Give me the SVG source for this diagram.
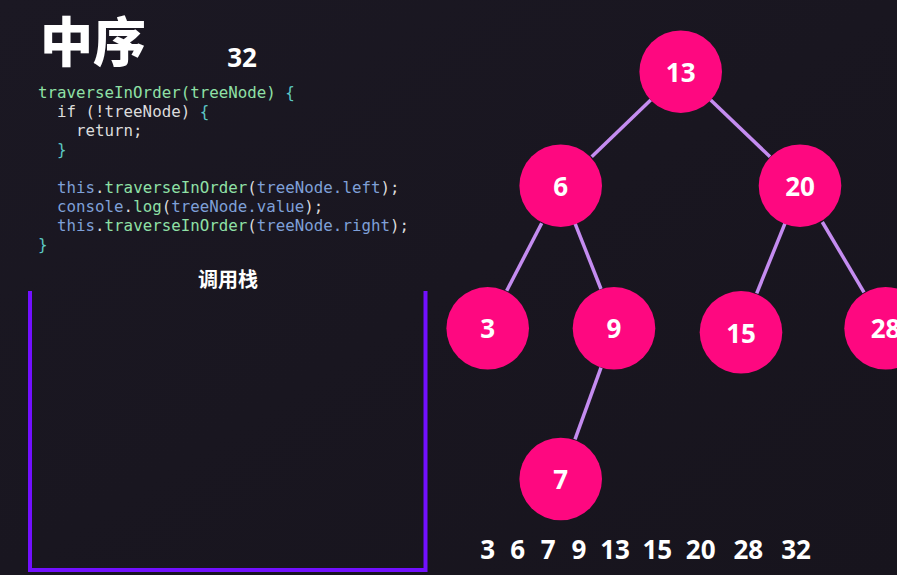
<svg xmlns="http://www.w3.org/2000/svg" width="897" height="575" viewBox="0 0 897 575">
<defs>
<style>
.node circle{fill:#fe0880;}
.node text,.num{fill:#ffffff;font-family:"Open Sans","DejaVu Sans",sans-serif;font-weight:700;font-size:26px;text-anchor:middle;}
.edge{stroke:#c48cf0;stroke-width:3.5;fill:none;}
.code{font-family:"DejaVu Sans Mono","Liberation Mono",monospace;font-size:15.8px;fill:#dcdcdc;}
.g{fill:#8fe0a6;}
.b{fill:#7fa0d8;}
.t{fill:#5cc8c4;}
.w{fill:#dcdcdc;}
.box{stroke:#7210ff;stroke-width:4;fill:none;}
</style>
<linearGradient id="bg" x1="0" y1="0" x2="1" y2="1">
<stop offset="0" stop-color="#1b1823"/>
<stop offset="1" stop-color="#17141d"/>
</linearGradient>
</defs>
<rect x="0" y="0" width="897" height="575" fill="url(#bg)"/>

<text x="40" y="62" font-family="'Noto Sans CJK SC',sans-serif" font-weight="900" font-size="53" fill="#ffffff">中序</text>
<text x="242" y="67" class="num" font-size="27">32</text>

<g id="code" class="code">
<text x="38" y="98"><tspan class="g">traverseInOrder(treeNode)</tspan><tspan class="t"> {</tspan></text>
<text x="38" y="117" xml:space="preserve"><tspan class="w">  if (!treeNode) </tspan><tspan class="t">{</tspan></text>
<text x="38" y="136" xml:space="preserve" class="w">    return;</text>
<text x="38" y="155" xml:space="preserve"><tspan class="t">  }</tspan></text>
<text x="38" y="193" xml:space="preserve"><tspan class="b">  this</tspan><tspan class="w">.</tspan><tspan class="g">traverseInOrder</tspan><tspan class="w">(</tspan><tspan class="b">treeNode.left</tspan><tspan class="w">);</tspan></text>
<text x="38" y="212" xml:space="preserve"><tspan class="b">  console</tspan><tspan class="w">.</tspan><tspan class="g">log</tspan><tspan class="w">(</tspan><tspan class="b">treeNode.value</tspan><tspan class="w">);</tspan></text>
<text x="38" y="231" xml:space="preserve"><tspan class="b">  this</tspan><tspan class="w">.</tspan><tspan class="g">traverseInOrder</tspan><tspan class="w">(</tspan><tspan class="b">treeNode.right</tspan><tspan class="w">);</tspan></text>
<text x="38" y="250" class="t">}</text>
</g>

<g id="stack">
<text x="228" y="287" font-family="'Noto Sans CJK SC',sans-serif" font-weight="700" font-size="20" fill="#ffffff" text-anchor="middle">调用栈</text>
<polyline class="box" points="30,291 30,570 425.5,570 425.5,291"/>
</g>

<g id="connectors">
<line class="edge" x1="650.7" y1="100" x2="591.7" y2="156.7"/>
<line class="edge" x1="710.7" y1="100" x2="770" y2="156.7"/>
<line class="edge" x1="541.7" y1="223.3" x2="506.7" y2="290.7"/>
<line class="edge" x1="575" y1="223.3" x2="601" y2="289"/>
<line class="edge" x1="785" y1="223.3" x2="756.7" y2="293.3"/>
<line class="edge" x1="822.3" y1="222" x2="864" y2="292.3"/>
<line class="edge" x1="601" y1="367.7" x2="575" y2="439.3"/>
</g>

<g id="n13" class="node"><circle cx="680.7" cy="71.7" r="41.3"/><text x="680.7" y="81.5">13</text></g>
<g id="n6" class="node"><circle cx="560.7" cy="185.7" r="41.3"/><text x="560.7" y="195.5">6</text></g>
<g id="n20" class="node"><circle cx="800" cy="185.7" r="41.3"/><text x="800" y="195.5">20</text></g>
<g id="n3" class="node"><circle cx="487.7" cy="328.3" r="41.3"/><text x="487.7" y="338">3</text></g>
<g id="n9" class="node"><circle cx="614" cy="328.3" r="41.3"/><text x="614" y="338">9</text></g>
<g id="n15" class="node"><circle cx="741" cy="332.3" r="41.3"/><text x="741" y="342.5">15</text></g>
<g id="n28" class="node"><circle cx="885.6" cy="328.3" r="41.3"/><text x="885.6" y="338">28</text></g>
<g id="n7" class="node"><circle cx="560.7" cy="479" r="41.3"/><text x="560.7" y="489">7</text></g>

<g id="result">
<text x="487.7" y="559" class="num" font-size="27">3</text>
<text x="517.7" y="559" class="num" font-size="27">6</text>
<text x="548.3" y="559" class="num" font-size="27">7</text>
<text x="579" y="559" class="num" font-size="27">9</text>
<text x="615" y="559" class="num" font-size="27">13</text>
<text x="657.3" y="559" class="num" font-size="27">15</text>
<text x="700.7" y="559" class="num" font-size="27">20</text>
<text x="748.3" y="559" class="num" font-size="27">28</text>
<text x="796" y="559" class="num" font-size="27">32</text>
</g>
</svg>
